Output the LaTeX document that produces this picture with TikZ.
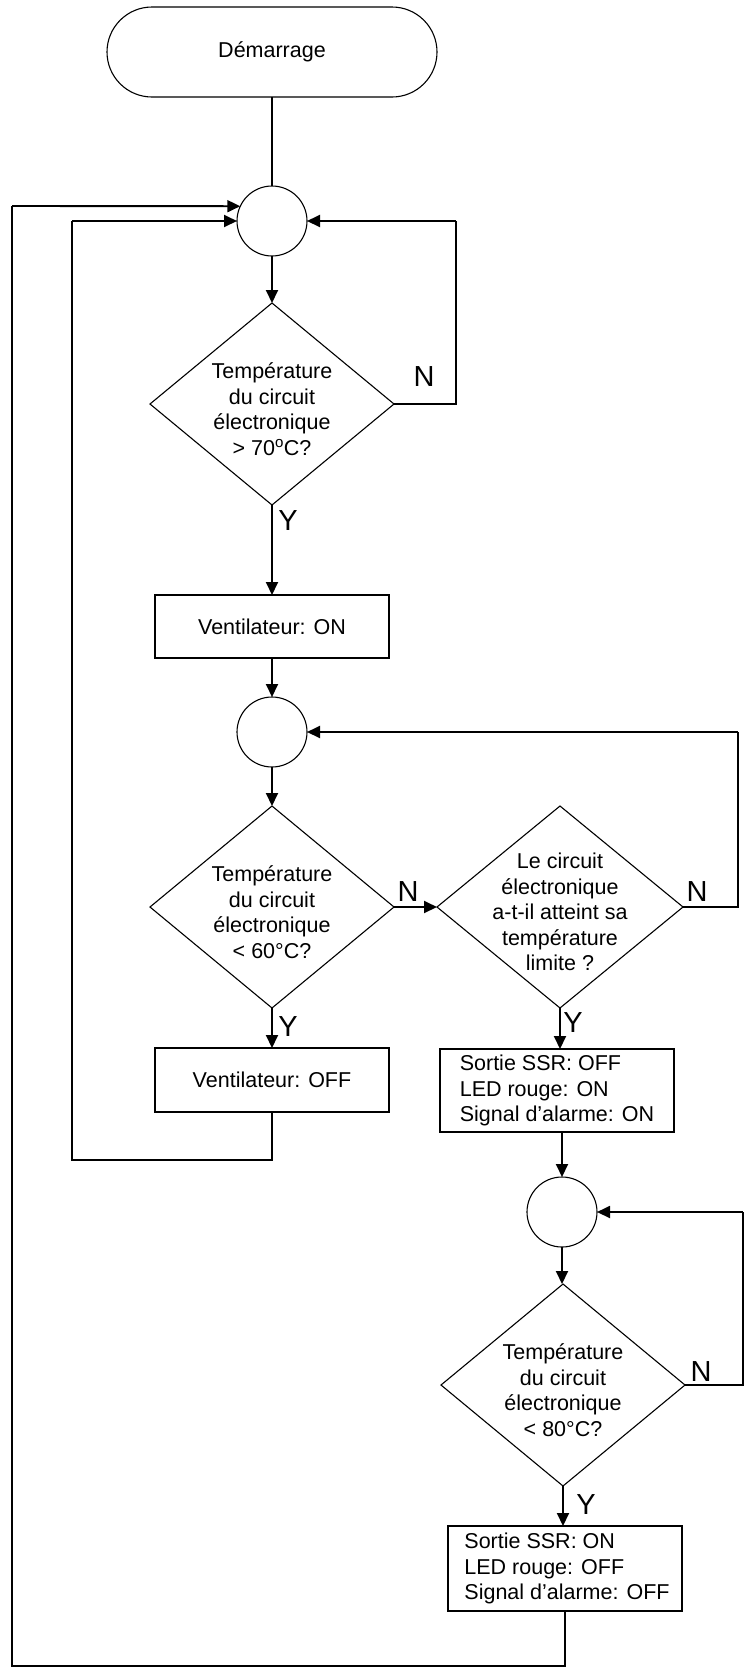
\documentclass[tikz,border=0pt]{standalone}
\usepackage{fontspec}
\setmainfont{Liberation Sans}
\usetikzlibrary{shapes.geometric,arrows.meta}
\tikzset{
  shapeline/.style={draw=black, line width=1.1pt},
  dec/.style={diamond, shapeline, minimum width=244pt, minimum height=202pt, inner sep=0pt, outer sep=0pt},
  proc/.style={rectangle, shapeline, minimum width=234pt, inner sep=0pt, outer sep=0pt},
  conn/.style={circle, shapeline, minimum size=70pt, inner sep=0pt, outer sep=0pt},
  term/.style={rectangle, rounded corners=45pt, shapeline, minimum width=330pt, minimum height=90pt, inner sep=0pt, outer sep=0pt},
  txt/.style={font=\fontsize{21.5}{25.5}\selectfont, align=center, inner sep=0pt},
  ltxt/.style={font=\fontsize{21.5}{25.5}\selectfont, align=left, inner sep=0pt},
  lbl/.style={font=\fontsize{29}{32}\selectfont, inner sep=0pt},
  flow/.style={line width=1.9pt, -{Triangle[length=13pt,width=12pt]}},
  wire/.style={line width=1.2pt},
}
\begin{document}
\begin{tikzpicture}[x=1pt,y=-1pt]
\useasboundingbox (0,0) rectangle (747,1674);
% nodes
\node[term] (t) at (272,52) {};
\node[txt] (tt) at (272,52) {Démarrage};
\node[conn] (c1) at (272,221) {};
\node[dec] (d1) at (272,404) {};
\node[txt] (d1t) at (272,409) {Température\\du circuit\\électronique\\> 70\textsuperscript{o}C?};
\node[proc, minimum height=63pt] (b1) at (272,626.5) {};
\node[txt] (b1t) at (272,626.5) {Ventilateur: ON};
\node[conn] (c2) at (272,732) {};
\node[dec] (d2) at (272,907) {};
\node[txt] (d2t) at (272,912) {Température\\du circuit\\électronique\\< 60°C?};
\node[dec, minimum width=246pt] (d3) at (560,907) {};
\node[txt] (d3t) at (560,912) {Le circuit\\électronique\\a-t-il atteint sa\\température\\limite ?};
\node[proc, minimum height=64pt] (b2) at (272,1080) {};
\node[txt] (b2t) at (272,1080) {Ventilateur: OFF};
\node[proc, minimum height=83pt] (b3) at (557,1090.5) {};
\node[ltxt] (b3t) at (557,1090.5) {Sortie SSR: OFF\\LED rouge: ON\\Signal d’alarme: ON};
\node[conn] (c3) at (562,1212) {};
\node[dec] (d4) at (563,1385) {};
\node[txt] (d4t) at (563,1390) {Température\\du circuit\\électronique\\< 80°C?};
\node[proc, minimum height=85pt] (b4) at (565,1568.5) {};
\node[ltxt] (b4t) at (567,1568.5) {Sortie SSR: ON\\LED rouge: OFF\\Signal d’alarme: OFF};
% labels
\node[lbl] (n1) at (424,377) {N};
\node[lbl] (y1) at (288,521) {Y};
\node[lbl] (n2) at (408,892) {N};
\node[lbl] (n3) at (697,892) {N};
\node[lbl] (y2) at (288,1027) {Y};
\node[lbl] (y3) at (573,1023) {Y};
\node[lbl] (n4) at (701,1372) {N};
\node[lbl] (y4) at (586,1505) {Y};
% corner coordinates
\coordinate (r1) at (456,404);
\coordinate (r1t) at (456,221);
\coordinate (r3) at (738,907);
\coordinate (r3t) at (738,732);
\coordinate (r4) at (743,1385);
\coordinate (r4t) at (743,1212);
\coordinate (l1a) at (272,1160);
\coordinate (l1b) at (72,1160);
\coordinate (l1c) at (72,221);
\coordinate (l2a) at (565,1666);
\coordinate (l2b) at (12,1666);
\coordinate (l2c) at (12,206);
% connectors
\draw[wire] (t.south) -- (c1.north);
\draw[flow] (c1.south) -- (d1.north);
\draw[wire] (d1.east) -- (r1) -- (r1t);
\draw[flow] (r1t) -- (c1.east);
\draw[flow] (d1.south) -- (b1.north);
\draw[flow] (b1.south) -- (c2.north);
\draw[flow] (c2.south) -- (d2.north);
\draw[flow] (d2.east) -- (d3.west);
\draw[wire] (d3.east) -- (r3) -- (r3t);
\draw[flow] (r3t) -- (c2.east);
\draw[flow] (d2.south) -- (b2.north);
\draw[flow] (d3.south) -- (d3.south |- b3.north);
\draw[flow] (b3.south -| c3.south) -- (c3.north);
\draw[flow] (c3.south) -- (c3.south |- d4.north);
\draw[wire] (d4.east) -- (r4) -- (r4t);
\draw[flow] (r4t) -- (c3.east);
\draw[flow] (d4.south) -- (d4.south |- b4.north);
\draw[wire] (b2.south) -- (l1a) -- (l1b) -- (l1c);
\draw[flow] (l1c) -- (c1.west);
\draw[wire] (b4.south) -- (l2a) -- (l2b) -- (l2c);
\draw[flow] (l2c) -- (c1.155);
\end{tikzpicture}
\end{document}
